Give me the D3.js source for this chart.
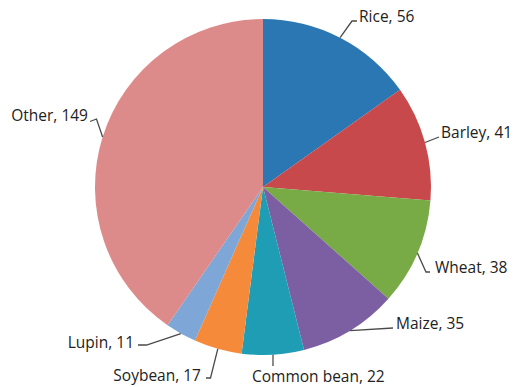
<!DOCTYPE html>
<html>
<head>
<meta charset="utf-8">
<script src="https://cdn.jsdelivr.net/npm/d3@7"></script>
<style>
  html, body { margin: 0; padding: 0; background: #fff; }
  svg { display: block; }
  text { font-family: "Open Sans", "Noto Sans", sans-serif; fill: #222; }
</style>
</head>
<body>
<svg id="chart" width="519" height="387"></svg>
<script>
// Crops and their counts
const crops = ["Rice", "Barley", "Wheat", "Maize", "Common bean", "Soybean", "Lupin", "Other"];
const counts = [56, 41, 38, 35, 22, 17, 11, 149];
const colors = ["#2a77b3", "#c8494b", "#78ab46", "#7c5ea2", "#1f9db4", "#f58a3b", "#7ea6d7", "#dd8a8a"];

// Label placement: elbow / end of each leader line and where the text sits
const labelLayout = [
  { elbow: [352, 21],  end: [357, 21],  text: [359, 22],  anchor: "start" },
  { elbow: null,       end: [439, 137], text: [441, 138], anchor: "start" },
  { elbow: [426, 272], end: [430, 272], text: [435, 273], anchor: "start" },
  { elbow: null,       end: [393, 328], text: [396, 329], anchor: "start" },
  { elbow: null,       end: [273, 366], text: [252, 382], anchor: "start" },
  { elbow: [210.5, 378], end: [206, 378], text: [201, 381], anchor: "end" },
  { elbow: [146.5, 345], end: [138, 345], text: [134, 348], anchor: "end" },
  { elbow: [96.5, 119], end: [90, 121.5], text: [88, 121], anchor: "end" }
];

const cx = 263, cy = 187, R = 168;
const svg = d3.select("#chart");
const g = svg.append("g").attr("transform", `translate(${cx},${cy})`);

const data = crops.map((c, i) => ({ crop: c, count: counts[i], color: colors[i], i }));
const pie = d3.pie().value(d => d.count).sort(null);
const arc = d3.arc().innerRadius(0).outerRadius(R);
const arcs = pie(data);

g.selectAll("path.slice")
  .data(arcs)
  .join("path")
  .attr("class", "slice")
  .attr("d", arc)
  .attr("fill", d => d.data.color);

// Leader lines from the slice edge (at mid-angle) to the label
const lines = svg.append("g");
arcs.forEach((a, k) => {
  const mid = (a.startAngle + a.endAngle) / 2;
  const start = [cx + R * Math.sin(mid), cy - R * Math.cos(mid)];
  const L = labelLayout[k];
  const pts = [start];
  if (L.elbow) pts.push(L.elbow);
  pts.push(L.end);
  lines.append("path")
    .attr("d", d3.line()(pts))
    .attr("fill", "none")
    .attr("stroke", "#4a4a4a")
    .attr("stroke-width", 1.3);
  svg.append("text")
    .attr("x", L.text[0])
    .attr("y", L.text[1])
    .attr("text-anchor", L.anchor)
    .attr("font-size", 15.5)
    .text(`${a.data.crop}, ${a.data.count}`);
});
</script>
</body>
</html>
